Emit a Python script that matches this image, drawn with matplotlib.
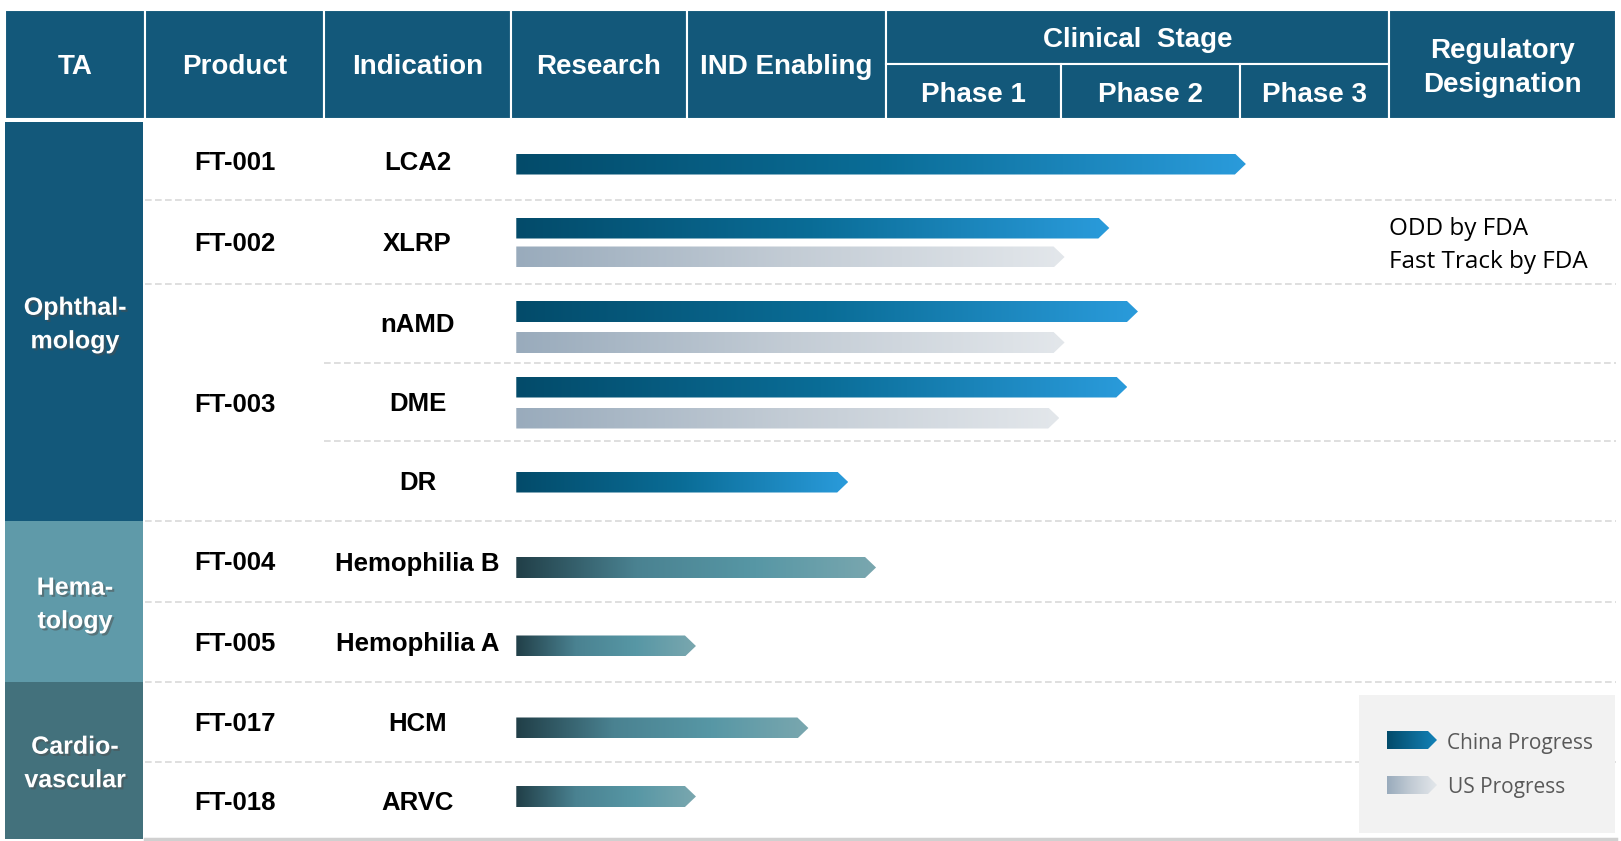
import numpy as np
import matplotlib.pyplot as plt
from matplotlib.patches import Rectangle, Polygon
from matplotlib.colors import LinearSegmentedColormap
import matplotlib.patheffects as pe

# ---- data ----
stages = ['Research', 'IND Enabling', 'Phase 1', 'Phase 2', 'Phase 3']
areas = ['Ophthal-\nmology', 'Hema-\ntology', 'Cardio-\nvascular']
area_rows = [(0, 4), (5, 6), (7, 8)]           # first/last indication row of each TA
products = ['FT-001', 'FT-002', 'FT-003', 'FT-004', 'FT-005', 'FT-017', 'FT-018']
product_rows = [(0, 0), (1, 1), (2, 4), (5, 5), (6, 6), (7, 7), (8, 8)]
indications = ['LCA2', 'XLRP', 'nAMD', 'DME', 'DR',
               'Hemophilia B', 'Hemophilia A', 'HCM', 'ARVC']
# progress in stage units (0 = start of Research, 5 = end of Phase 3)
china_progress = [4.04, 3.27, 3.43, 3.37, 1.81, 1.95, 1.045, 1.61, 1.045]
us_progress = [None, 3.02, 3.02, 2.99, None, None, None, None, None]
bar_start = 0.03
reg_text = {1: 'ODD by FDA\nFast Track by FDA'}

# ---- layout (pixels) ----
W, H = 1621, 841
col_x = [5, 145, 324, 511, 687, 886, 1061, 1240, 1389, 1616]   # column edges
stage_x = [511, 687, 886, 1061, 1240, 1387]
row_y = [122, 200, 284, 363, 441, 521, 602, 682, 762, 839]
head_top, head_mid, head_bot = 10, 64, 119
# vertical nudge of bars inside each row (china, us)
bar_off = [(3, 0), (-14, 15), (-12, 19), (-15, 16), (1, 0), (6, 0), (4, 0), (6, 0), (-4, 0)]

HEAD = '#13587a'
area_colors = ['#13587a', '#5f9aa9', '#43717c']
cmap_cn = LinearSegmentedColormap.from_list('cn', ['#034b6a', '#0a6d97', '#2a9bdb'])
cmap_us = LinearSegmentedColormap.from_list('us', ['#99abbc', '#c3ccd5', '#e3e7eb'])
cmap_other = LinearSegmentedColormap.from_list('ot', ['#213f48', '#4a8291', '#5797a5', '#7aa7af'])

fig = plt.figure(figsize=(W / 100, H / 100), dpi=100)
ax = fig.add_axes([0, 0, 1, 1])
ax.set_xlim(0, W)
ax.set_ylim(H, 0)
ax.axis('off')

bold = ['Liberation Sans', 'DejaVu Sans']
narrow = ['Liberation Sans Narrow', 'Liberation Sans', 'DejaVu Sans']
hfs = 20


def cell(x0, x1, y0, y1, color, lw=1.5):
    ax.add_patch(Rectangle((x0, y0), x1 - x0, y1 - y0, facecolor=color,
                           edgecolor='white', lw=lw, zorder=2))


# header
heads = ['TA', 'Product', 'Indication', 'Research', 'IND Enabling']
for i, t in enumerate(heads):
    cell(col_x[i], col_x[i + 1], head_top, head_bot, HEAD)
    ax.text((col_x[i] + col_x[i + 1]) / 2, (head_top + head_bot) / 2 + 2, t,
            color='white', fontsize=hfs, fontweight='bold', family=bold,
            ha='center', va='center', zorder=3)
cell(col_x[5], col_x[8], head_top, head_mid, HEAD)
ax.text((col_x[5] + col_x[8]) / 2, (head_top + head_mid) / 2 + 3, 'Clinical  Stage',
        color='white', fontsize=hfs, fontweight='bold', family=bold,
        ha='center', va='center', zorder=3)
for j in range(3):
    cell(col_x[5 + j], col_x[6 + j], head_mid, head_bot, HEAD)
    ax.text((col_x[5 + j] + col_x[6 + j]) / 2, (head_mid + head_bot) / 2 + 3, stages[2 + j],
            color='white', fontsize=hfs, fontweight='bold', family=bold,
            ha='center', va='center', zorder=3)
cell(col_x[8], col_x[9], head_top, head_bot, HEAD)
ax.text((col_x[8] + col_x[9]) / 2, (head_top + head_bot) / 2 + 3, 'Regulatory\nDesignation',
        color='white', fontsize=hfs, fontweight='bold', family=bold,
        ha='center', va='center', linespacing=1.4, zorder=3)

# therapeutic areas
for name, (r0, r1), c in zip(areas, area_rows, area_colors):
    ax.add_patch(Rectangle((col_x[0], row_y[r0]), col_x[1] - col_x[0] - 2,
                           row_y[r1 + 1] - row_y[r0], facecolor=c, edgecolor='none', zorder=2))
    ax.text((col_x[0] + col_x[1]) / 2, (row_y[r0] + row_y[r1 + 1]) / 2 + 3, name,
            color='white', fontsize=18, fontweight='bold', family=narrow,
            ha='center', va='center', linespacing=1.5, zorder=3,
            path_effects=[pe.withSimplePatchShadow(offset=(1.5, -1.5), alpha=0.5)])

# separators
for k in range(1, len(row_y) - 1):
    x0 = col_x[2] if k in (3, 4) else col_x[1]
    ax.plot([x0, W - 5], [row_y[k], row_y[k]], color='#d9d9d9', lw=1.2,
            ls=(0, (4, 2)), zorder=1)
ax.plot([col_x[1], W - 5], [row_y[-1], row_y[-1]], color='#d0d0d0', lw=2.5, zorder=1)

# products / indications
for p, (r0, r1) in zip(products, product_rows):
    ax.text((col_x[1] + col_x[2]) / 2, (row_y[r0] + row_y[r1 + 1]) / 2 + 2, p,
            fontsize=18.5, fontweight='bold', family=narrow, ha='center', va='center', zorder=3)
for i, t in enumerate(indications):
    ax.text((col_x[2] + col_x[3]) / 2, (row_y[i] + row_y[i + 1]) / 2 + 2, t,
            fontsize=18.5, fontweight='bold', family=narrow, ha='center', va='center', zorder=3)


# bars
def stage_to_px(v):
    return np.interp(v, np.arange(len(stage_x)), stage_x)


def arrow(x0, x1, yc, h, cmap, tip=11):
    pts = [(x0, yc - h / 2), (x1 - tip, yc - h / 2), (x1, yc),
           (x1 - tip, yc + h / 2), (x0, yc + h / 2)]
    poly = Polygon(pts, closed=True, facecolor='none', edgecolor='none', zorder=3)
    ax.add_patch(poly)
    grad = np.linspace(0, 1, 256).reshape(1, -1)
    im = ax.imshow(grad, cmap=cmap, extent=[x0, x1, yc + h / 2, yc - h / 2],
                   aspect='auto', interpolation='bicubic', zorder=3)
    im.set_clip_path(poly)


bh = 21
for i in range(len(indications)):
    yc = (row_y[i] + row_y[i + 1]) / 2
    cm = cmap_cn if i < 5 else cmap_other
    arrow(stage_to_px(bar_start), stage_to_px(china_progress[i]), yc + bar_off[i][0], bh, cm)
    if us_progress[i] is not None:
        arrow(stage_to_px(bar_start), stage_to_px(us_progress[i]), yc + bar_off[i][1], bh, cmap_us)

ax.set_xlim(0, W)
ax.set_ylim(H, 0)

# regulatory designation
for i, t in reg_text.items():
    ax.text(col_x[8], (row_y[i] + row_y[i + 1]) / 2 + 3, t, fontsize=17.5,
            family=['Open Sans', 'DejaVu Sans'], ha='left', va='center',
            linespacing=1.5, zorder=3)

# legend
ax.add_patch(Rectangle((1359, 695), 256, 138, facecolor='#f2f2f2', edgecolor='none', zorder=2))
arrow(1387, 1437, 740, 18, LinearSegmentedColormap.from_list('l1', ['#034b6a', '#1382b8']), tip=9)
arrow(1387, 1437, 785, 18, cmap_us, tip=9)
ax.text(1447, 743, 'China Progress', fontsize=15, color='#595959',
        family=['Open Sans', 'DejaVu Sans'], ha='left', va='center', zorder=3)
ax.text(1448, 788, 'US Progress', fontsize=15, color='#595959',
        family=['Open Sans', 'DejaVu Sans'], ha='left', va='center', zorder=3)

fig.savefig('out.png', dpi=100, facecolor='white')
